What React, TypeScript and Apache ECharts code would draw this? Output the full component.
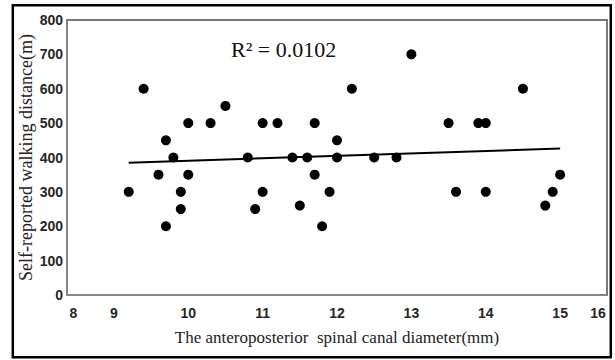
import React, { useEffect, useRef } from "react";
import * as echarts from "echarts";

// Scatter data: anteroposterior spinal canal diameter (mm) vs walking distance (m)
const diameters = [
  9.2, 9.4, 9.6, 9.7, 9.7, 9.8, 9.9, 9.9, 10.0, 10.0, 10.3, 10.5, 10.8, 10.9, 11.0, 11.0, 11.2,
  11.4, 11.5, 11.6, 11.7, 11.7, 11.8, 11.9, 12.0, 12.0, 12.2, 12.5, 12.8, 13.0, 13.5, 13.6,
  13.9, 14.0, 14.0, 14.5, 14.8, 14.9, 15.0,
];
const distances = [
  300, 600, 350, 450, 200, 400, 300, 250, 500, 350, 500, 550, 400, 250, 500, 300, 500,
  400, 260, 400, 500, 350, 200, 300, 450, 400, 600, 400, 400, 700, 500, 300,
  500, 500, 300, 600, 260, 300, 350,
];
// Trend line end points
const trendX = [9.2, 15.0];
const trendY = [385, 426];
const xTickLabels = ["8", "9", "10", "11", "12", "13", "14", "15", "16"];
const yTicks = [0, 100, 200, 300, 400, 500, 600, 700, 800];
const r2Text = "R² = 0.0102";

const X_MIN = 8.37;
const X_MAX = 15.63;

export default function App() {
  const ref = useRef<HTMLDivElement>(null);

  useEffect(() => {
    document.body.style.margin = "0";
    if (!ref.current) return;
    const chart = echarts.init(ref.current, null, { renderer: "svg" });

    const labelPos = xTickLabels.map((t) =>
      Math.min(Math.max(Number(t), X_MIN + 0.085), X_MAX - 0.12)
    );
    const posToLabel = (v: number) => {
      let best = 0;
      let bd = Infinity;
      labelPos.forEach((p, i) => {
        const d = Math.abs(p - v);
        if (d < bd) {
          bd = d;
          best = i;
        }
      });
      return xTickLabels[best];
    };

    const tickFont = {
      fontFamily: "Liberation Sans",
      fontWeight: "bold" as const,
      fontSize: 14,
      color: "#262626",
    };

    chart.setOption({
      animation: false,
      backgroundColor: "#ffffff",
      grid: {
        left: 67,
        right: 8,
        top: 20,
        bottom: 65,
        show: true,
        borderColor: "#7a7a7a",
        borderWidth: 2,
        backgroundColor: "transparent",
      },
      xAxis: {
        type: "value",
        min: X_MIN,
        max: X_MAX,
        name: "The anteroposterior  spinal canal diameter(mm)",
        nameLocation: "middle",
        nameGap: 34,
        nameMoveOverlap: false,
        nameTextStyle: {
          fontFamily: "Liberation Serif",
          fontSize: 17,
          color: "#222",
        },
        axisLine: { show: true, lineStyle: { color: "#8a8a8a", width: 1.5 } },
        axisTick: { show: false },
        splitLine: { show: false },
        axisLabel: {
          ...tickFont,
          margin: 11,
          customValues: labelPos,
          showMinLabel: true,
          showMaxLabel: true,
          formatter: (v: number) => posToLabel(v),
        },
      },
      yAxis: {
        type: "value",
        min: yTicks[0],
        max: yTicks[yTicks.length - 1],
        interval: 100,
        name: "Self-reported walking distance(m)",
        nameLocation: "middle",
        nameGap: 32,
        nameMoveOverlap: false,
        nameTextStyle: {
          fontFamily: "Liberation Serif",
          fontSize: 18,
          color: "#222",
        },
        axisLine: { show: true, lineStyle: { color: "#8a8a8a", width: 1.5 } },
        axisTick: { show: false },
        splitLine: { show: false },
        axisLabel: { ...tickFont, margin: 4 },
      },
      series: [
        {
          type: "scatter",
          symbol: "circle",
          symbolSize: 10,
          itemStyle: { color: "#000", opacity: 1 },
          data: diameters.map((d, i) => [d, distances[i]]),
          z: 3,
        },
        {
          type: "line",
          showSymbol: false,
          symbol: "none",
          lineStyle: { color: "#000", width: 2 },
          data: trendX.map((x, i) => [x, trendY[i]]),
          z: 2,
        },
      ],
      graphic: [
        {
          type: "rect",
          shape: { x: 12.8, y: 5.3, width: 598, height: 352 },
          style: { fill: "none", stroke: "#000", lineWidth: 2.5 },
          silent: true,
        },
        {
          type: "text",
          left: 231,
          top: 38,
          style: {
            text: r2Text,
            fontFamily: "Liberation Serif",
            fontSize: 22,
            fill: "#111",
          },
        },
      ],
    });

    return () => chart.dispose();
  }, []);

  return (
    <div
      ref={ref}
      style={{ position: "absolute", left: 0, top: 0, width: 615, height: 360 }}
    />
  );
}
